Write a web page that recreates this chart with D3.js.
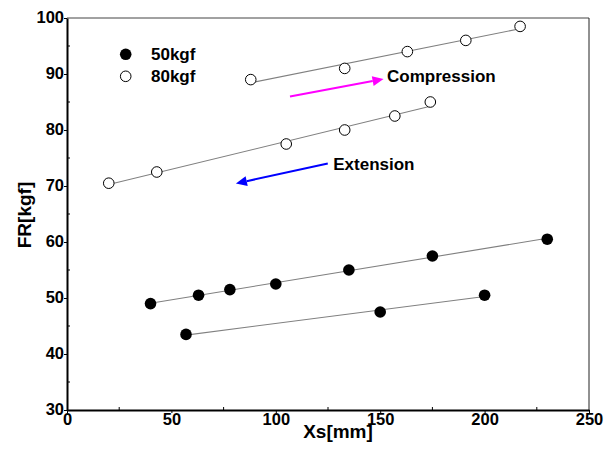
<!DOCTYPE html>
<html>
<head>
<meta charset="utf-8">
<script src="https://cdn.jsdelivr.net/npm/d3@7"></script>
<style>
  html, body { margin: 0; padding: 0; background: #fff; }
  svg { display: block; font-family: "Liberation Sans", Arial, Helvetica, sans-serif; }
</style>
</head>
<body>
<svg id="chart" width="611" height="452"></svg>
<script>
// ---- data ----
const seriesNames = ["50kgf", "80kgf"];
// 50kgf, compression branch
const s50aX = [40, 63, 78, 100, 135, 175, 230];
const s50aY = [49, 50.5, 51.5, 52.5, 55, 57.5, 60.5];
// 50kgf, extension branch
const s50bX = [57, 150, 200];
const s50bY = [43.5, 47.5, 50.5];
// 80kgf, compression branch
const s80aX = [88, 133, 163, 191, 217];
const s80aY = [89, 91, 94, 96, 98.5];
// 80kgf, extension branch
const s80bX = [20, 43, 105, 133, 157, 174];
const s80bY = [70.5, 72.5, 77.5, 80, 82.5, 85];

const xTicks = [0, 50, 100, 150, 200, 250];
const yTicks = [30, 40, 50, 60, 70, 80, 90, 100];
const xMinor = [25, 75, 125, 175, 225];
const yMinor = [35, 45, 55, 65, 75, 85, 95];

const annoLabels = ["Compression", "Extension"];
const annoFrom = [[106.8, 86.0], [124.9, 74.0]];
const annoTo = [[151.6, 89.1], [80.9, 70.45]];
const annoText = [[153.3, 88.55], [127.5, 72.85]];
const annoColors = ["#ff00ff", "#0000ff"];

// ---- drawing ----
const svg = d3.select("#chart");
const x = d3.scaleLinear().domain([0, 250]).range([67, 589]);
const y = d3.scaleLinear().domain([30, 100]).range([410, 18]);

function fit(xs, ys) {
  const mx = d3.mean(xs), my = d3.mean(ys);
  let sxy = 0, sxx = 0;
  xs.forEach((v, i) => { sxy += (v - mx) * (ys[i] - my); sxx += (v - mx) * (v - mx); });
  const b = sxy / sxx, a = my - b * mx;
  const x0 = d3.min(xs), x1 = d3.max(xs);
  return [[x0, a + b * x0], [x1, a + b * x1]];
}

const groups = [
  { xs: s50aX, ys: s50aY, filled: true },
  { xs: s50bX, ys: s50bY, filled: true },
  { xs: s80aX, ys: s80aY, filled: false },
  { xs: s80bX, ys: s80bY, filled: false }
];

const line = d3.line().x(d => x(d[0])).y(d => y(d[1]));
groups.forEach(g => {
  svg.append("path").attr("d", line(fit(g.xs, g.ys)))
    .attr("fill", "none").attr("stroke", "#808080").attr("stroke-width", 1.1);
});
groups.forEach(g => {
  svg.append("g").selectAll("circle").data(g.xs.map((v, i) => [v, g.ys[i]]))
    .join("circle")
    .attr("cx", d => x(d[0])).attr("cy", d => y(d[1]))
    .attr("r", g.filled ? 5.8 : 5.3)
    .attr("fill", g.filled ? "#000" : "#fff")
    .attr("stroke", "#000").attr("stroke-width", g.filled ? 0 : 1);
});

// frame
svg.append("line").attr("x1", 67).attr("x2", 589).attr("y1", 18).attr("y2", 18)
  .attr("stroke", "#444").attr("stroke-width", 1);
svg.append("line").attr("x1", 589).attr("x2", 589).attr("y1", 18).attr("y2", 410)
  .attr("stroke", "#222").attr("stroke-width", 1);

// axes
const xAxis = svg.append("g").attr("transform", "translate(0,410)")
  .call(d3.axisBottom(x).tickValues(xTicks).tickSizeInner(3).tickSizeOuter(0).tickPadding(0));
const yAxis = svg.append("g").attr("transform", "translate(67,0)")
  .call(d3.axisLeft(y).tickValues(yTicks).tickSizeInner(3).tickSizeOuter(0).tickPadding(0));
[xAxis, yAxis].forEach(a => {
  a.select(".domain").attr("stroke", "#000").attr("stroke-width", 2);
  a.selectAll(".tick line").attr("stroke", "#000").attr("stroke-width", 1);
  a.selectAll(".tick text").attr("fill", "#000")
    .style("font-size", "16.5px").style("font-weight", "bold")
    .style("font-family", '"Liberation Sans", Arial, sans-serif');
});
yAxis.selectAll(".tick text").attr("dy", "0.28em");
svg.append("g").selectAll("line").data(xMinor).join("line")
  .attr("x1", d => x(d)).attr("x2", d => x(d)).attr("y1", 410).attr("y2", 407)
  .attr("stroke", "#000");
svg.append("g").selectAll("line").data(yMinor).join("line")
  .attr("x1", 67).attr("x2", 70).attr("y1", d => y(d)).attr("y2", d => y(d))
  .attr("stroke", "#000");

// axis titles
svg.append("text").attr("x", 338).attr("y", 438).attr("text-anchor", "middle")
  .style("font-size", "19px").style("font-weight", "bold").text("Xs[mm]");
svg.append("text").attr("transform", "translate(31,215) rotate(-90)")
  .attr("text-anchor", "middle")
  .style("font-size", "19px").style("font-weight", "bold").text("FR[kgf]");

// legend
const leg = svg.append("g");
seriesNames.forEach((n, i) => {
  leg.append("circle").attr("cx", 125.7).attr("cy", 54.3 + i * 22)
    .attr("r", i === 0 ? 5.8 : 5.3)
    .attr("fill", i === 0 ? "#000" : "#fff")
    .attr("stroke", "#000").attr("stroke-width", i === 0 ? 0 : 1);
  leg.append("text").attr("x", 151).attr("y", 60 + i * 22)
    .style("font-size", "17px").style("font-weight", "bold").text(n);
});

// annotations (arrows)
annoLabels.forEach((lab, i) => {
  const [fx, fy] = [x(annoFrom[i][0]), y(annoFrom[i][1])];
  const [tx, ty] = [x(annoTo[i][0]), y(annoTo[i][1])];
  const ang = Math.atan2(ty - fy, tx - fx);
  const hl = 11, hw = 5;
  const bx = tx - hl * Math.cos(ang), by = ty - hl * Math.sin(ang);
  svg.append("line").attr("x1", fx).attr("y1", fy).attr("x2", bx).attr("y2", by)
    .attr("stroke", annoColors[i]).attr("stroke-width", 2);
  const px = -Math.sin(ang) * hw, py = Math.cos(ang) * hw;
  svg.append("path")
    .attr("d", `M${tx},${ty}L${bx + px},${by + py}L${bx - px},${by - py}Z`)
    .attr("fill", annoColors[i]);
  svg.append("text").attr("x", x(annoText[i][0])).attr("y", y(annoText[i][1]))
    .style("font-size", "17px").style("font-weight", "bold").text(lab);
});
</script>
</body>
</html>
